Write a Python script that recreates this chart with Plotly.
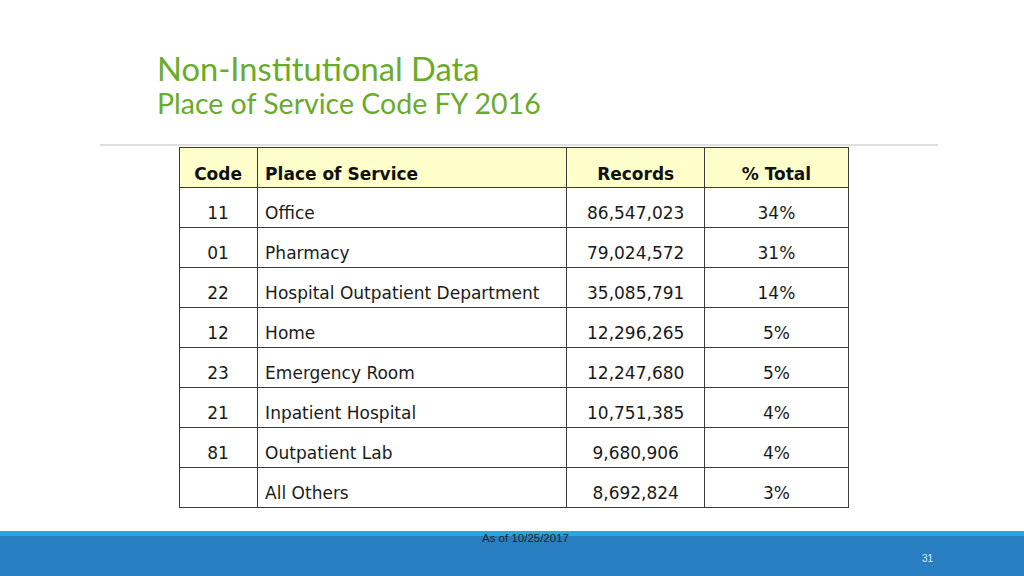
import plotly.graph_objects as go

codes = ["11", "01", "22", "12", "23", "21", "81", ""]
places = ["Office", "Pharmacy", "Hospital Outpatient Department", "Home",
          "Emergency Room", "Inpatient Hospital", "Outpatient Lab", "All Others"]
records = [86547023, 79024572, 35085791, 12296265, 12247680, 10751385, 9680906, 8692824]
pct_total = [34, 31, 14, 5, 5, 4, 4, 3]
headers = ["Code", "Place of Service", "Records", "% Total"]

W, H = 1024, 576
TOP = 147
BOTTOM = 525
colw = [78, 309, 138, 143]
aligns = ["center", "left", "center", "center"]
CLEAR = "rgba(0,0,0,0)"
fig = go.Figure()

# grid / fills
fig.add_trace(go.Table(
    domain=dict(x=[179 / W, 848 / W], y=[1 - BOTTOM / H, 1 - TOP / H]),
    columnwidth=colw,
    header=dict(values=["" for _ in headers], fill_color="#FFFFCC",
                line=dict(color="#3a3a3a", width=1), height=40),
    cells=dict(values=[["" for _ in codes] for _ in headers], fill_color="white",
               line=dict(color="#3a3a3a", width=1), height=40),
))

# header text layer
fig.add_trace(go.Table(
    domain=dict(x=[179 / W, 848 / W], y=[1 - BOTTOM / H, 1 - (TOP + 9) / H]),
    columnwidth=colw,
    header=dict(values=["<b>%s</b>" % h for h in headers], align=aligns,
                fill_color=CLEAR, line=dict(color=CLEAR, width=0),
                font=dict(family="DejaVu Sans", size=17, color="#111111"), height=40),
    cells=dict(values=[["" for _ in codes] for _ in headers], fill_color=CLEAR,
               line=dict(color=CLEAR, width=0), height=40),
))

# body text layer
fig.add_trace(go.Table(
    domain=dict(x=[179 / W, 848 / W], y=[1 - BOTTOM / H, 1 - (TOP + 11) / H]),
    columnwidth=colw,
    header=dict(values=["" for _ in headers], fill_color=CLEAR,
                line=dict(color=CLEAR, width=0), height=40),
    cells=dict(
        values=[codes, places, [f"{r:,}" for r in records], [f"{p}%" for p in pct_total]],
        align=aligns, fill_color=CLEAR, line=dict(color=CLEAR, width=0),
        font=dict(family="DejaVu Sans", size=17, color="#1a1a1a"), height=40,
    ),
))

shapes = [
    dict(type="line", xref="paper", yref="paper", x0=100 / W, x1=938 / W,
         y0=1 - 145 / H, y1=1 - 145 / H, line=dict(color="#D4D4D4", width=1.5)),
    dict(type="rect", xref="paper", yref="paper", x0=0, x1=1, y0=0, y1=1 - 531 / H,
         fillcolor="#2A7FC3", line=dict(width=0), layer="below"),
    dict(type="rect", xref="paper", yref="paper", x0=0, x1=1, y0=1 - 536 / H, y1=1 - 531 / H,
         fillcolor="#24A8E0", line=dict(width=0), layer="below"),
]

annotations = [
    dict(text="Non-Institutional Data", x=155 / W, y=1 - 68 / H, xref="paper", yref="paper",
         xanchor="left", yanchor="middle", showarrow=False,
         font=dict(family="Lato", size=32.7, color="#6AAB2C")),
    dict(text="Place of Service Code FY 2016", x=155 / W, y=1 - 103 / H, xref="paper", yref="paper",
         xanchor="left", yanchor="middle", showarrow=False,
         font=dict(family="Lato", size=28.5, color="#6AAB2C")),
    dict(text="As of 10/25/2017", x=480 / W, y=1 - 538 / H, xref="paper", yref="paper",
         xanchor="left", yanchor="middle", showarrow=False,
         font=dict(family="Liberation Sans", size=11.5, color="#222222")),
    dict(text="31", x=928 / W, y=1 - 558 / H, xref="paper", yref="paper",
         xanchor="center", yanchor="middle", showarrow=False,
         font=dict(family="Liberation Sans", size=10, color="#DDEAF6")),
]

fig.update_layout(
    width=W, height=H,
    margin=dict(l=0, r=0, t=0, b=0),
    paper_bgcolor="white", plot_bgcolor="white",
    shapes=shapes, annotations=annotations,
    showlegend=False,
)

fig.write_html("out.html", config={"displayModeBar": False},
               post_script="document.body.style.margin='0';document.body.style.overflow='hidden';")
